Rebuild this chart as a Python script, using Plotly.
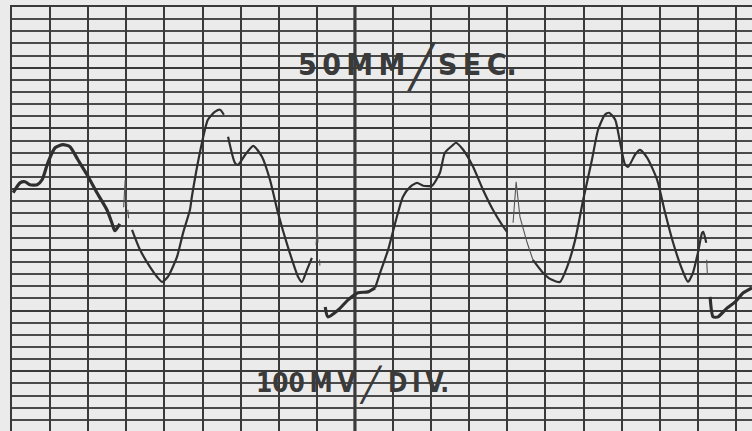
import plotly.graph_objects as go

# ---- data: chart-recorder trace, time in major divisions, amplitude in minor divisions
# slow (heavy ink) parts of the trace, None = pen gap
slow_t = [0.03, 0.21, 0.34, 0.47, 0.66, 0.79, 0.94, 1.13, 1.34, 1.52, 1.73, 1.97, 2.23, 2.49, 2.62, 2.70, 2.83, None,
          8.22, 8.29, 8.56, 8.82, 9.08, 9.34, 9.53, None,
          18.32, 18.40, 18.53, 18.77, 18.98, 19.19, 19.42]
slow_v = [4.70, 5.52, 5.61, 5.36, 5.36, 5.77, 7.17, 8.41, 8.66, 8.49, 7.42, 6.18, 4.70, 3.30, 2.23, 1.57, 2.14, None,
          -4.70, -5.52, -4.95, -4.12, -3.54, -3.46, -3.13, None,
          -3.87, -5.52, -5.52, -4.78, -4.29, -3.54, -3.13]

# main trace
main_t = [3.15, 3.36, 3.62, 3.81, 3.94, 4.09, 4.33, 4.49, 4.67, 4.72, 4.93, 5.14, 5.33, 5.46, 5.56, None,
          5.67, 5.85, 5.93, 6.12, 6.33, 6.56, 6.77, 6.98, 7.24, 7.51, 7.61, 7.74, 7.87, None,
          9.53, 9.66, 9.87, 10.10, 10.26, 10.45, 10.63, 10.79, 11.02, 11.23, 11.36, 11.55, 11.65, 11.84,
          12.10, 12.36, 12.62, 12.86, 12.99, None,
          13.67, 13.94, 14.17, 14.38, 14.57, 14.78, 14.99, 15.22, 15.38, 15.56, 15.67, 15.83, 15.96, 16.09,
          16.17, 16.35, 16.48, 16.67, 16.93, 17.14, 17.35, 17.59, 17.74, 17.87, 18.00, 18.11, 18.14, 18.22]
main_v = [1.65, 0.00, -1.40, -2.23, -2.64, -2.23, -0.58, 1.40, 3.30, 4.37, 8.00, 10.72, 11.38, 11.54, 11.13, None,
          9.32, 7.17, 7.01, 7.83, 8.57, 7.67, 5.77, 3.05, 0.25, -2.23, -2.64, -1.65, -0.66, None,
          -3.13, -1.90, 0.00, 2.72, 4.37, 5.19, 5.52, 5.28, 5.28, 6.35, 8.00, 8.57, 8.82, 8.24,
          6.84, 4.95, 3.30, 2.06, 1.48, None,
          -0.82, -1.90, -2.47, -2.64, -1.40, 0.82, 4.12, 7.42, 9.89, 11.13, 11.29, 10.72, 8.82, 7.01,
          6.84, 7.83, 8.24, 7.58, 5.77, 3.05, 0.58, -1.65, -2.64, -1.90, -0.25, 1.40, 1.48, 0.58]

# fast (faint) pen strokes
fast_t = [2.93, 2.97, 3.01, None, 3.04, 3.06, None,
          7.98, 8.01, 8.03, None, 8.07, 8.08, None,
          13.15, 13.23, 13.33, 13.52, 13.67, None,
          18.23, 18.25]
fast_v = [3.5, 5.77, 3.6, None, 3.3, 2.6, None,
          0.4, 1.8, 0.6, None, -0.8, -1.3, None,
          2.23, 5.61, 2.72, 0.58, -0.82, None,
          -0.82, -2.06]

speed_label = ["5\u20090\u2009M\u2009M", "S\u2009E\u2009C."]
gain_label = ["100\u2009M\u2009V", "D\u2009I\u2009V."]

INK = "#2f2f2f"
GRID = "#3a3a3a"
PAPER = "#ebebeb"

fig = go.Figure()
fig.add_trace(go.Scatter(x=slow_t, y=slow_v, mode="lines",
                         line=dict(color=INK, width=3.2, shape="spline", smoothing=0.6),
                         hoverinfo="skip", showlegend=False))
fig.add_trace(go.Scatter(x=main_t, y=main_v, mode="lines",
                         line=dict(color=INK, width=2.2, shape="spline", smoothing=0.6),
                         hoverinfo="skip", showlegend=False))
fig.add_trace(go.Scatter(x=fast_t, y=fast_v, mode="lines",
                         line=dict(color="#555555", width=1.1),
                         hoverinfo="skip", showlegend=False))

fig.add_vline(x=9, line=dict(color=GRID, width=3.2), layer="below")

TXT = "#3a3a3a"
FAM = "DejaVu Sans Condensed, DejaVu Sans"
font_b = dict(family=FAM, size=30, color=TXT)
font_b2 = dict(family=FAM, size=26, color=TXT)
annots = [
    dict(x=7.49, y=15.29, text="<b>%s</b>" % speed_label[0], xanchor="left", yanchor="middle", font=font_b),
    dict(x=10.76, y=15.05, text="<b>\u2571</b>", xanchor="center", yanchor="middle",
         font=dict(family="DejaVu Sans", size=42, color=TXT)),
    dict(x=11.15, y=15.29, text="<b>%s</b>" % speed_label[1], xanchor="left", yanchor="middle", font=font_b),
    dict(x=6.38, y=-10.96, text="<b>%s</b>" % gain_label[0], xanchor="left", yanchor="middle", font=font_b2),
    dict(x=9.42, y=-11.05, text="<b>\u2571</b>", xanchor="center", yanchor="middle",
         font=dict(family="DejaVu Sans", size=33, color=TXT)),
    dict(x=9.84, y=-10.96, text="<b>%s</b>" % gain_label[1], xanchor="left", yanchor="middle", font=font_b2),
]
for a in annots:
    a.update(xref="x", yref="y", showarrow=False, borderpad=0)
fig.update_layout(annotations=annots)

fig.update_layout(
    width=752, height=431,
    margin=dict(l=12, r=0, t=7, b=0),
    paper_bgcolor=PAPER, plot_bgcolor=PAPER,
    xaxis=dict(range=[0, 19.42], showticklabels=False, ticks="", zeroline=False,
               tickmode="linear", tick0=0, dtick=1,
               showgrid=True, gridcolor=GRID, gridwidth=2.2,
               showline=True, linecolor=GRID, linewidth=2.2, mirror=True),
    yaxis=dict(range=[-14.92, 20.0], showticklabels=False, ticks="", zeroline=False,
               tickmode="linear", tick0=0, dtick=5,
               showgrid=True, gridcolor=GRID, gridwidth=2.4,
               showline=True, linecolor=GRID, linewidth=2.2, mirror=False,
               minor=dict(tickmode="linear", tick0=0, dtick=1, showgrid=True,
                          gridcolor="#4a4a4a", gridwidth=1.5, ticks="")),
)

fig.write_html("out.html", config={"displayModeBar": False},
               post_script="document.body.style.margin='0px';document.body.style.background='%s';" % PAPER)
